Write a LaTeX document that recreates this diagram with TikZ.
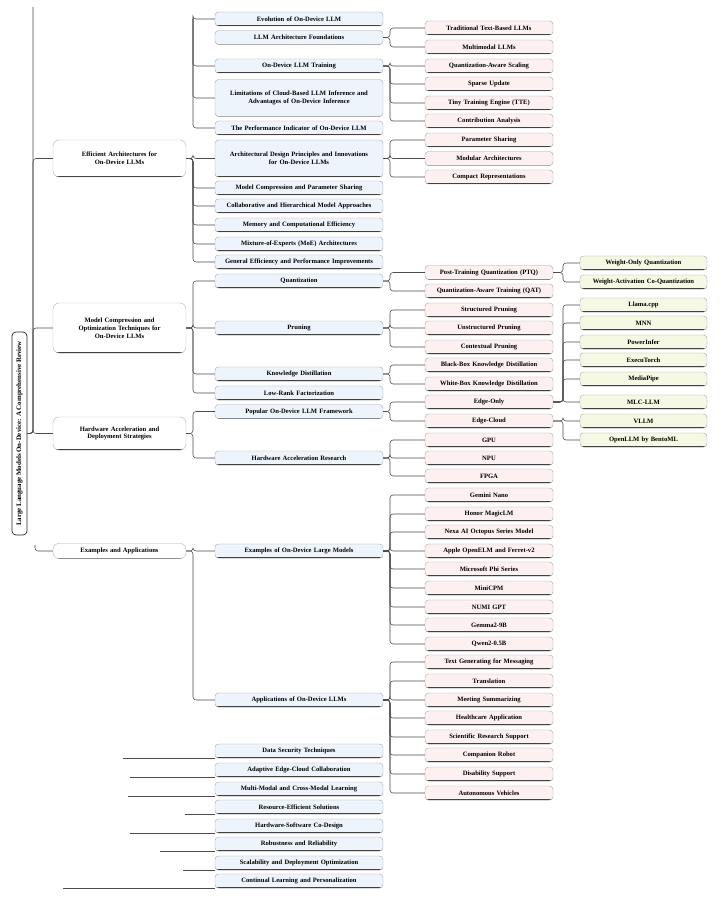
\documentclass[tikz,border=0pt]{standalone}
\usepackage{fontspec}
\setmainfont{Liberation Serif}
\usepackage{tikz}
\definecolor{bluefill}{HTML}{EEF4FB}
\definecolor{pinkfill}{HTML}{FCF1F0}
\definecolor{greenfill}{HTML}{F5F8E2}

\begin{document}
\begin{tikzpicture}[x=1pt, y=-1pt,
		conn/.style={draw=black!70, line width=0.55pt, rounded corners=3pt},
		leaf/.style={draw=black!35, rounded corners=3.5pt, minimum height=14pt, inner sep=1pt,
			align=center, font=\fontsize{6.6}{7.8}\selectfont\bfseries,
			path picture={\draw[black!80, line width=1.1pt] (path picture bounding box.south west) -- (path picture bounding box.south east);}},
		topic/.style={leaf, fill=white, draw=black!30, rounded corners=6pt, minimum width=133pt, text width=125pt},
		sub/.style={leaf, fill=bluefill, minimum width=168pt, text width=162pt},
		item/.style={leaf, fill=pinkfill, minimum width=128pt, text width=124pt},
		tool/.style={leaf, fill=greenfill, minimum width=127pt, text width=123pt},
		root/.style={draw=black!85, line width=0.7pt, rounded corners=4pt, fill=white, minimum width=203pt,
			minimum height=15pt, inner sep=1pt, font=\fontsize{6.9}{8}\selectfont\bfseries}]
	\fill[white] (0,0) rectangle (720,901);
	\useasboundingbox (0,0) rectangle (720,901);

	% bracket columns
	\coordinate (b1) at (193,0);
	\coordinate (b2) at (390,0);
	\coordinate (b3) at (563,0);

	% root
	\node[root, rotate=90] (root) at (19.5,433.5) {Large Language Models On-Device: A Comprehensive Review};

	% first level
	\node[topic, minimum height=37pt] (effarch) at (119.5,158.5) {Efficient Architectures for\\On-Device LLMs};
	\node[topic, minimum height=50pt] (compress) at (119.5,328) {Model Compression and\\Optimization Techniques for\\On-Device LLMs};
	\node[topic, minimum height=33pt] (hwaccel) at (119.5,433.5) {Hardware Acceleration and\\Deployment Strategies};
	\node[topic, minimum height=15pt] (examples) at (119.5,551) {Examples and Applications};

	% second level
	\foreach \n/\y/\t in {evol/19/{Evolution of On-Device LLM}, archfound/37.5/{LLM Architecture Foundations},
			training/66/{On-Device LLM Training}, perfind/128/{The Performance Indicator of On-Device LLM},
			mcps/188/{Model Compression and Parameter Sharing}, collab/206/{Collaborative and Hierarchical Model Approaches},
			memory/225/{Memory and Computational Efficiency}, moe/244/{Mixture-of-Experts (MoE) Architectures},
			general/262/{General Efficiency and Performance Improvements}, quant/281/{Quantization},
			pruning/328/{Pruning}, kd/374/{Knowledge Distillation}, lowrank/393/{Low-Rank Factorization},
			framework/411.5/{Popular On-Device LLM Framework}, hwresearch/458/{Hardware Acceleration Research},
			models/551/{Examples of On-Device Large Models}, apps/700/{Applications of On-Device LLMs}}
		\node[sub] (\n) at (299,\y) {\t};
	\node[sub, minimum height=37pt] (limits) at (299,98) {Limitations of Cloud-Based LLM Inference and\\Advantages of On-Device Inference};
	\node[sub, minimum height=37pt] (archdesign) at (299,158.5) {Architectural Design Principles and Innovations\\for On-Device LLMs};
	\foreach \n/\y/\t in {f1/751/{Data Security Techniques}, f2/770/{Adaptive Edge-Cloud Collaboration},
			f3/789/{Multi-Modal and Cross-Modal Learning}, f4/807/{Resource-Efficient Solutions},
			f5/826/{Hardware-Software Co-Design}, f6/844/{Robustness and Reliability},
			f7/863/{Scalability and Deployment Optimization}, f8/881/{Continual Learning and Personalization}}
		\node[sub] (\n) at (299,\y) {\t};

	% third level
	\foreach \n/\y/\t in {textllm/28/{Traditional Text-Based LLMs}, multimodal/47/{Multimodal LLMs},
			qas/66/{Quantization-Aware Scaling}, sparse/84/{Sparse Update}, tte/103/{Tiny Training Engine (TTE)},
			contrib/121/{Contribution Analysis}, paramshare/140/{Parameter Sharing}, modular/158.5/{Modular Architectures},
			compact/177/{Compact Representations}, ptq/272.5/{Post-Training Quantization (PTQ)},
			qat/291/{Quantization-Aware Training (QAT)}, structp/310/{Structured Pruning},
			unstructp/328/{Unstructured Pruning}, contextp/347/{Contextual Pruning},
			blackbox/365/{Black-Box Knowledge Distillation}, whitebox/384/{White-Box Knowledge Distillation},
			edgeonly/402/{Edge-Only}, edgecloud/421/{Edge-Cloud}, gpu/440/{GPU}, npu/458/{NPU}, fpga/476/{FPGA},
			gemini/495/{Gemini Nano}, honor/514/{Honor MagicLM}, nexa/532/{Nexa AI Octopus Series Model},
			apple/551/{Apple OpenELM and Ferret-v2}, phi/569/{Microsoft Phi Series}, minicpm/588/{MiniCPM},
			numi/607/{NUMI GPT}, gemma/625/{Gemma2-9B}, qwen/644/{Qwen2-0.5B},
			textgen/662/{Text Generating for Messaging}, translate/681/{Translation}, meeting/700/{Meeting Summarizing},
			health/718/{Healthcare Application}, science/737/{Scientific Research Support},
			robot/755/{Companion Robot}, disable/774/{Disability Support}, vehicle/793/{Autonomous Vehicles}}
		\node[item] (\n) at (489,\y) {\t};

	% fourth level
	\foreach \n/\y/\t in {wonly/263/{Weight-Only Quantization}, wact/282/{Weight-Activation Co-Quantization},
			llamacpp/305/{Llama.cpp}, mnn/323/{MNN}, powerinfer/342/{PowerInfer}, executorch/360/{ExecuTorch},
			mediapipe/379/{MediaPipe}, mlcllm/402/{MLC-LLM}, vllm/421/{VLLM}, openllm/440/{OpenLLM by BentoML}}
		\node[tool] (\n) at (643.5,\y) {\t};

	% root to first level
	\coordinate (trunk) at (33,7);
	\draw[conn] (root.south) -| (trunk);
	\foreach \c in {effarch, compress, hwaccel}
		\draw[conn] (root.south) -| (trunk |- \c.west) -- (\c.west);
	\coordinate (exstub) at (35,545);
	\draw[conn] (exstub) |- (examples.west);

	% first to second level
	\coordinate (found) at (193,19);
	\foreach \c in {evol, training, limits, perfind}
		\draw[conn] (found) |- (\c.west);
	\foreach \p/\c in {effarch/archdesign, effarch/mcps, effarch/collab, effarch/memory, effarch/moe, effarch/general,
			compress/quant, compress/pruning, compress/kd, compress/lowrank,
			hwaccel/framework, hwaccel/hwresearch, examples/models, examples/apps}
		\draw[conn] (\p.east) -| (b1 |- \c.west) -- (\c.west);

	% future directions
	\foreach \k/\x in {1/123, 2/130, 3/128, 4/185, 5/130, 6/160, 7/183, 8/63}
		\draw[conn] (\x,0 |- f\k.south) -- (f\k.south west);

	% second to third level
	\foreach \p/\c in {archfound/textllm, archfound/multimodal,
			training/qas, training/sparse, training/tte, training/contrib,
			archdesign/paramshare, archdesign/modular, archdesign/compact,
			quant/ptq, quant/qat, pruning/structp, pruning/unstructp, pruning/contextp,
			kd/blackbox, kd/whitebox, framework/edgeonly, framework/edgecloud,
			hwresearch/gpu, hwresearch/npu, hwresearch/fpga,
			models/gemini, models/honor, models/nexa, models/apple, models/phi, models/minicpm,
			models/numi, models/gemma, models/qwen,
			apps/textgen, apps/translate, apps/meeting, apps/health, apps/science,
			apps/robot, apps/disable, apps/vehicle}
		\draw[conn] (\p.east) -| (b2 |- \c.west) -- (\c.west);

	% third to fourth level
	\foreach \p/\c in {ptq/wonly, ptq/wact, edgeonly/llamacpp, edgeonly/mnn, edgeonly/powerinfer,
			edgeonly/executorch, edgeonly/mediapipe, edgeonly/mlcllm, edgecloud/vllm, edgecloud/openllm}
		\draw[conn] (\p.east) -| (b3 |- \c.west) -- (\c.west);
\end{tikzpicture}
\end{document}
